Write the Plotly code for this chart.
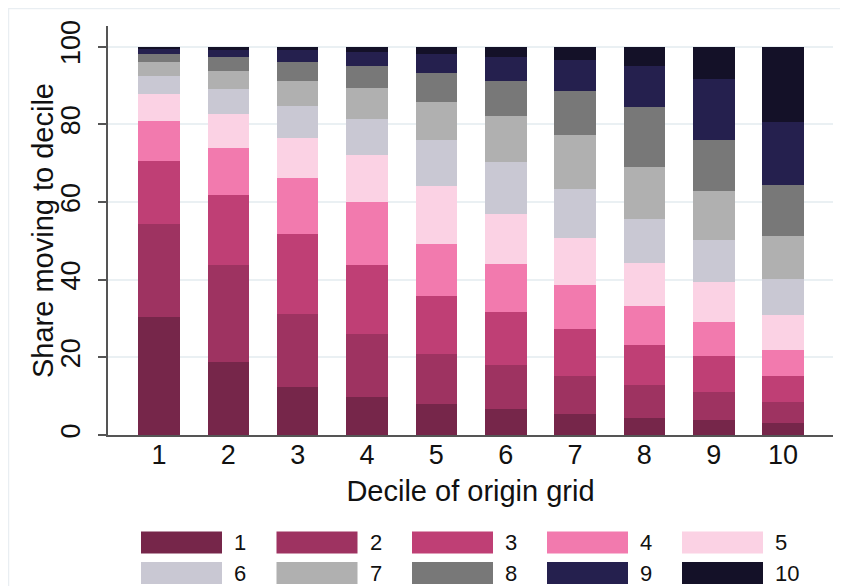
import plotly.graph_objects as go

# ---- data ----
origin_deciles = ["1", "2", "3", "4", "5", "6", "7", "8", "9", "10"]
destination_labels = ["1", "2", "3", "4", "5", "6", "7", "8", "9", "10"]

# share (%) of each origin decile moving to destination decile k
to_decile_1 = [30.3, 18.7, 12.4, 9.9, 7.9, 6.8, 5.5, 4.5, 3.9, 3.1]
to_decile_2 = [24.0, 25.0, 18.7, 16.0, 12.9, 11.1, 9.8, 8.3, 7.1, 5.5]
to_decile_3 = [16.2, 18.1, 20.6, 17.8, 14.9, 13.7, 12.1, 10.3, 9.3, 6.5]
to_decile_4 = [10.4, 12.0, 14.4, 16.2, 13.4, 12.4, 11.2, 10.2, 8.7, 6.7]
to_decile_5 = [6.9, 8.8, 10.4, 12.2, 15.0, 12.9, 12.1, 10.9, 10.3, 9.0]
to_decile_6 = [4.7, 6.5, 8.2, 9.3, 11.8, 13.4, 12.6, 11.3, 10.8, 9.4]
to_decile_7 = [3.6, 4.6, 6.5, 7.9, 9.9, 11.8, 13.9, 13.5, 12.7, 11.0]
to_decile_8 = [2.0, 3.6, 4.9, 5.8, 7.4, 9.1, 11.4, 15.5, 13.2, 13.1]
to_decile_9 = [1.3, 1.9, 2.9, 3.5, 4.9, 6.1, 8.0, 10.5, 15.7, 16.3]
to_decile_10 = [0.6, 0.8, 1.0, 1.4, 1.9, 2.7, 3.4, 5.0, 8.3, 19.4]

y_ticks = [0, 20, 40, 60, 80, 100]

series = [to_decile_1, to_decile_2, to_decile_3, to_decile_4, to_decile_5,
          to_decile_6, to_decile_7, to_decile_8, to_decile_9, to_decile_10]

colors = ["#76264a", "#9e3361", "#bf3f75", "#f27aae", "#fbd2e4",
          "#c9c8d3", "#b0b0b0", "#787878", "#25204e", "#141128"]

FONT = "Liberation Sans, Arial, Helvetica, sans-serif"

# the page adds an 8px body margin, so the figure is drawn at (8, 8)
OFF = 8
W, H = 848 - OFF, 586 - OFF
L, R, T, B = 108 - OFF, 15, 26 - OFF, 586 - 435
PW, PH = W - L - R, H - T - B


def px_x(px):  # px in reference-page pixels
    return (px - OFF - L) / PW


def px_y(py):
    return (H - B - (py - OFF)) / PH


fig = go.Figure()
for lab, vals, col in zip(destination_labels, series, colors):
    fig.add_trace(go.Bar(
        x=list(range(1, 11)), y=vals, name=lab,
        marker=dict(color=col, line=dict(width=0)),
        width=0.6, showlegend=False,
    ))

# manual legend (large swatches like the original)
shapes = []
annotations = []
sw_x0 = [141, 276.5, 412, 547, 682]
sw_w = 81
row_y = [(531.5, 553.5), (562, 584)]
for i, (lab, col) in enumerate(zip(destination_labels, colors)):
    r, c = divmod(i, 5)
    x0 = sw_x0[c]
    y0, y1 = row_y[r]
    shapes.append(dict(type="rect", xref="paper", yref="paper",
                       x0=px_x(x0), x1=px_x(x0 + sw_w),
                       y0=px_y(y1), y1=px_y(y0),
                       fillcolor=col, line=dict(width=0), layer="above"))
    annotations.append(dict(xref="paper", yref="paper",
                            x=px_x(x0 + sw_w + 10), y=px_y((y0 + y1) / 2),
                            text=lab, showarrow=False, xanchor="left",
                            yanchor="middle",
                            font=dict(family=FONT, size=22, color="#111111")))

# y axis title
annotations.append(dict(xref="paper", yref="paper",
                        x=px_x(43), y=px_y(231), text="Share moving to decile",
                        textangle=-90, showarrow=False,
                        xanchor="center", yanchor="middle",
                        font=dict(family=FONT, size=29, color="#111111")))

# faint outer frame
shapes.append(dict(type="rect", xref="paper", yref="paper",
                   x0=px_x(8.5), x1=px_x(860), y0=px_y(600), y1=px_y(8.5),
                   line=dict(color="#e9eef2", width=1.5), fillcolor="rgba(0,0,0,0)",
                   layer="below"))

fig.update_layout(
    barmode="stack",
    width=W, height=H,
    margin=dict(l=L, r=R, t=T, b=B, pad=0),
    paper_bgcolor="white", plot_bgcolor="white",
    font=dict(family=FONT, color="#111111"),
    shapes=shapes, annotations=annotations,
)
fig.update_xaxes(
    range=[0.265, 10.72],
    tickmode="array", tickvals=list(range(1, 11)), ticktext=origin_deciles,
    tickfont=dict(size=27, color="#111111"),
    showline=True, linecolor="#555555", linewidth=1.5,
    showgrid=False, ticks="", ticklabelstandoff=-5,
    title=dict(text="Decile of origin grid", font=dict(size=29, color="#111111"), standoff=12),
    zeroline=False,
)
fig.update_yaxes(
    range=[0, 105.3],
    tickmode="array", tickvals=y_ticks, ticktext=[str(v) for v in y_ticks],
    tickangle=-90,
    tickfont=dict(size=27, color="#111111"),
    showline=True, linecolor="#555555", linewidth=1.5,
    ticks="outside", ticklen=8, tickcolor="#555555", tickwidth=1.5,
    showgrid=True, gridcolor="#eaf0f3", gridwidth=1.5,
    zeroline=False,
    ticklabelstandoff=7,
)

fig.write_html("out.html")
